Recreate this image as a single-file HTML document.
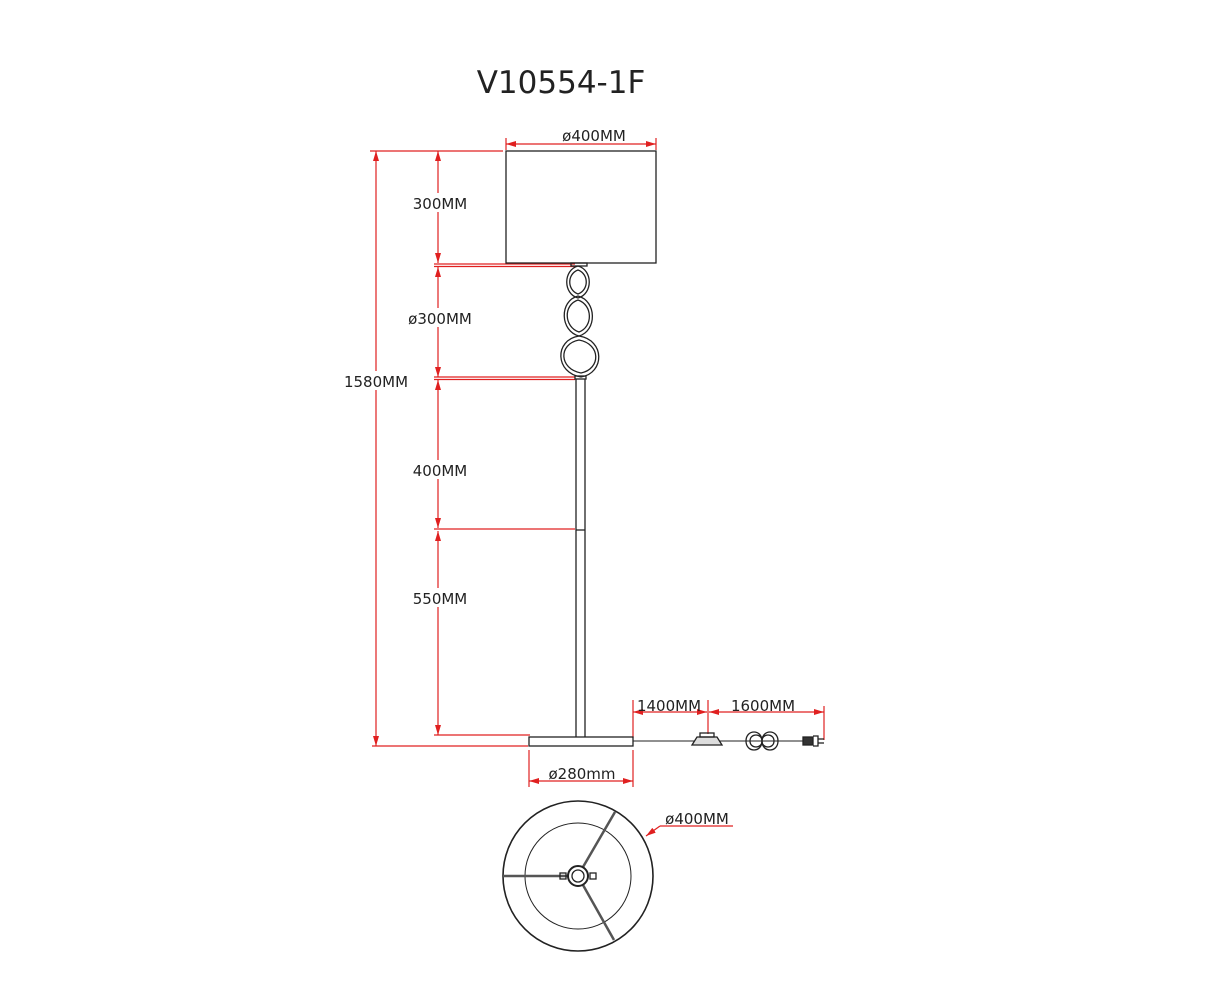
<!DOCTYPE html>
<html><head><meta charset="utf-8"><style>
html,body{margin:0;padding:0;background:#fff;}
svg{display:block;}
text{font-family:"DejaVu Sans","Liberation Sans",sans-serif;fill:#222;}
</style></head><body>
<svg width="1223" height="1000" viewBox="0 0 1223 1000" xmlns="http://www.w3.org/2000/svg">
<defs>
<marker id="a" viewBox="0 0 10 6" refX="10" refY="3" markerWidth="10" markerHeight="6" orient="auto-start-reverse" markerUnits="userSpaceOnUse">
<path d="M0,0 L10,3 L0,6 z" fill="#e02020"/></marker>
</defs>
<text x="561" y="93" font-size="31" text-anchor="middle" font-family="Liberation Sans, sans-serif">V10554-1F</text>

<g stroke="#e02020" stroke-width="1.2" fill="none">
<line x1="506" y1="144" x2="656" y2="144" marker-start="url(#a)" marker-end="url(#a)"/>
<line x1="506" y1="138" x2="506" y2="150"/><line x1="656" y1="138" x2="656" y2="150"/>
<line x1="376" y1="151" x2="376" y2="746" marker-start="url(#a)" marker-end="url(#a)"/>
<line x1="370" y1="151" x2="503" y2="151"/>
<line x1="372" y1="746" x2="528" y2="746"/>
<line x1="438" y1="151" x2="438" y2="263" marker-start="url(#a)" marker-end="url(#a)"/>
<line x1="438" y1="267" x2="438" y2="377" marker-start="url(#a)" marker-end="url(#a)"/>
<line x1="438" y1="380" x2="438" y2="528" marker-start="url(#a)" marker-end="url(#a)"/>
<line x1="438" y1="531" x2="438" y2="735" marker-start="url(#a)" marker-end="url(#a)"/>
<line x1="434" y1="264" x2="575" y2="264"/><line x1="434" y1="266.5" x2="575" y2="266.5"/>
<line x1="434" y1="377" x2="575" y2="377"/><line x1="434" y1="379.5" x2="575" y2="379.5"/>
<line x1="434" y1="529" x2="575" y2="529"/>
<line x1="434" y1="735" x2="530" y2="735"/>
<line x1="633" y1="712" x2="707" y2="712" marker-start="url(#a)" marker-end="url(#a)"/>
<line x1="709" y1="712" x2="824" y2="712" marker-start="url(#a)" marker-end="url(#a)"/>
<line x1="633" y1="700" x2="633" y2="738"/><line x1="708" y1="700" x2="708" y2="734"/><line x1="824" y1="706" x2="824" y2="740"/>
<line x1="529" y1="781" x2="633" y2="781" marker-start="url(#a)" marker-end="url(#a)"/>
<line x1="529" y1="750" x2="529" y2="787"/><line x1="633" y1="750" x2="633" y2="787"/>
<line x1="660" y1="826" x2="733" y2="826"/>
<line x1="660" y1="826" x2="646" y2="836" marker-end="url(#a)"/>
</g>

<g font-size="15">
<text x="594" y="141" text-anchor="middle">ø400MM</text>
<rect x="338" y="371" width="76" height="19" fill="#fff"/>
<text x="376" y="387" text-anchor="middle">1580MM</text>
<rect x="406" y="193" width="66" height="19" fill="#fff"/>
<text x="440" y="209" text-anchor="middle">300MM</text>
<rect x="402" y="308" width="76" height="19" fill="#fff"/>
<text x="440" y="324" text-anchor="middle">ø300MM</text>
<rect x="408" y="460" width="64" height="19" fill="#fff"/>
<text x="440" y="476" text-anchor="middle">400MM</text>
<rect x="408" y="588" width="64" height="19" fill="#fff"/>
<text x="440" y="604" text-anchor="middle">550MM</text>
<text x="669" y="711" text-anchor="middle">1400MM</text>
<text x="763" y="711" text-anchor="middle">1600MM</text>
<text x="582" y="779" text-anchor="middle">ø280mm</text>
<text x="697" y="824" text-anchor="middle">ø400MM</text>
</g>

<g stroke="#222" fill="none" stroke-width="1.3">
<rect x="506" y="151" width="150" height="112"/>
<rect x="571" y="263" width="16" height="3"/>
<path d="M578,266 C593,270 593,294 578,298 C563,294 563,270 578,266 Z"/>
<path d="M578,270 C589,274 589,290 578,294 C567,290 567,274 578,270 Z"/>
<path d="M578,296 C597,301 597,331 579,336 C560,331 559,301 578,296 Z"/>
<path d="M578,300 C593,305 593,327 579,332 C564,327 563,305 578,300 Z"/>
<path d="M579,336 C605,340 605,373 581,377 C555,373 554,340 579,336 Z"/>
<path d="M579,340 C601,344 601,369 581,373 C559,369 558,344 579,340 Z"/>
<rect x="575" y="376" width="11" height="3"/>
<line x1="576" y1="379" x2="576" y2="737"/><line x1="585" y1="379" x2="585" y2="737"/>
<line x1="576" y1="530" x2="585" y2="530"/>
<rect x="529" y="737" width="104" height="9"/>
<line x1="633" y1="741" x2="805" y2="741" stroke-width="1"/>
<path d="M692,745 L697,737 L717,737 L722,745 Z" fill="#ddd"/>
<rect x="700" y="733" width="14" height="4"/>
<path d="M746,741 c0,-12 16,-12 16,0 c0,12 16,12 16,0 c0,-12 -16,-12 -16,0 c0,12 -16,12 -16,0 Z"/>
<path d="M750,741 c0,-8 12,-8 12,0 c0,8 12,8 12,0 c0,-8 -12,-8 -12,0 c0,8 -12,8 -12,0 Z"/>
<rect x="803" y="737" width="10" height="8" fill="#333"/>
<path d="M813,736 L818,736 L818,746 L813,746"/>
<line x1="818" y1="739" x2="824" y2="739"/><line x1="818" y1="743" x2="824" y2="743"/>
<circle cx="578" cy="876" r="75" stroke-width="1.6"/>
<circle cx="578" cy="876" r="53" stroke-width="1"/>
<line x1="503" y1="876" x2="568" y2="876" stroke-width="2.5" stroke="#555"/>
<line x1="583" y1="867" x2="615" y2="812" stroke-width="2.5" stroke="#555"/>
<line x1="583" y1="885" x2="614" y2="940" stroke-width="2.5" stroke="#555"/>
<circle cx="578" cy="876" r="10" stroke-width="2"/>
<circle cx="578" cy="876" r="6"/>
<rect x="560" y="873" width="6" height="6"/><rect x="590" y="873" width="6" height="6"/>
</g>
</svg>
</body></html>
